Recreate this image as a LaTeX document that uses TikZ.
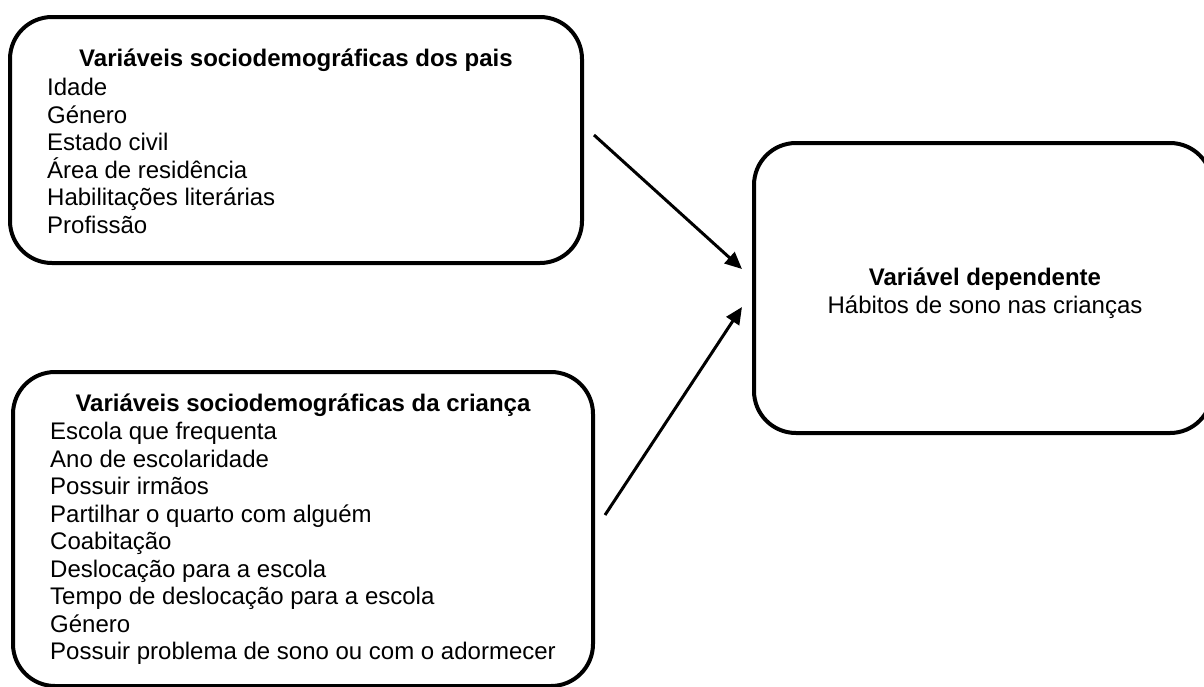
\documentclass[tikz,border=0pt]{standalone}
\usepackage{fontspec}
\setmainfont{Liberation Sans}
\usetikzlibrary{positioning,arrows.meta}
\tikzset{
  caixa/.style={draw, line width=4pt, rounded corners=42pt, inner sep=0pt},
  titulo/.style={font=\fontsize{24}{27.5}\selectfont\bfseries, inner sep=0pt, anchor=base},
  lista/.style={align=left, inner sep=0pt, anchor=north west},
  seta/.style={-{Triangle[length=17pt,width=15pt]}, line width=3pt}
}
\begin{document}
\begin{tikzpicture}[x=1pt, y=-1pt, font=\fontsize{24}{27.5}\selectfont]
          \useasboundingbox (0,0) rectangle (1204,686);
          \node [caixa, minimum width=572pt, minimum height=246pt] (pais) at (296,140) {};
          \node [caixa, minimum width=580pt, minimum height=314pt] (crianca) at (303,529) {};
          \node [caixa, minimum width=458pt, minimum height=290pt] (dep) at (983,288) {};
          \node [titulo] (tpais) at (296,66) {Variáveis sociodemográficas dos pais};
          \node [lista] (lpais) at (47,78) {Idade\\Género\\Estado civil\\Área de residência\\Habilitações literárias\\Profissão};
          \node [titulo] (tcrianca) at (303,411) {Variáveis sociodemográficas da criança};
          \node [lista] (lcrianca) at (50,422) {Escola que frequenta\\Ano de escolaridade\\Possuir irmãos\\Partilhar o quarto com alguém\\Coabitação\\Deslocação para a escola\\Tempo de deslocação para a escola\\Género\\Possuir problema de sono ou com o adormecer};
          \node [align=center, inner sep=0pt, anchor=north] (tdep) at (985,268) {\textbf{Variável dependente}\\Hábitos de sono nas crianças};
          \coordinate (s1) at ([xshift=10pt,yshift=5pt]pais.east);
          \coordinate (e1) at ([xshift=-10pt,yshift=19pt]dep.west);
          \coordinate (s2) at ([xshift=10pt,yshift=14pt]crianca.east);
          \coordinate (e2) at ([xshift=-10pt,yshift=-19pt]dep.west);
          \draw [seta] (s1) -- (e1);
          \draw [seta] (s2) -- (e2);
      \end{tikzpicture}
\end{document}
